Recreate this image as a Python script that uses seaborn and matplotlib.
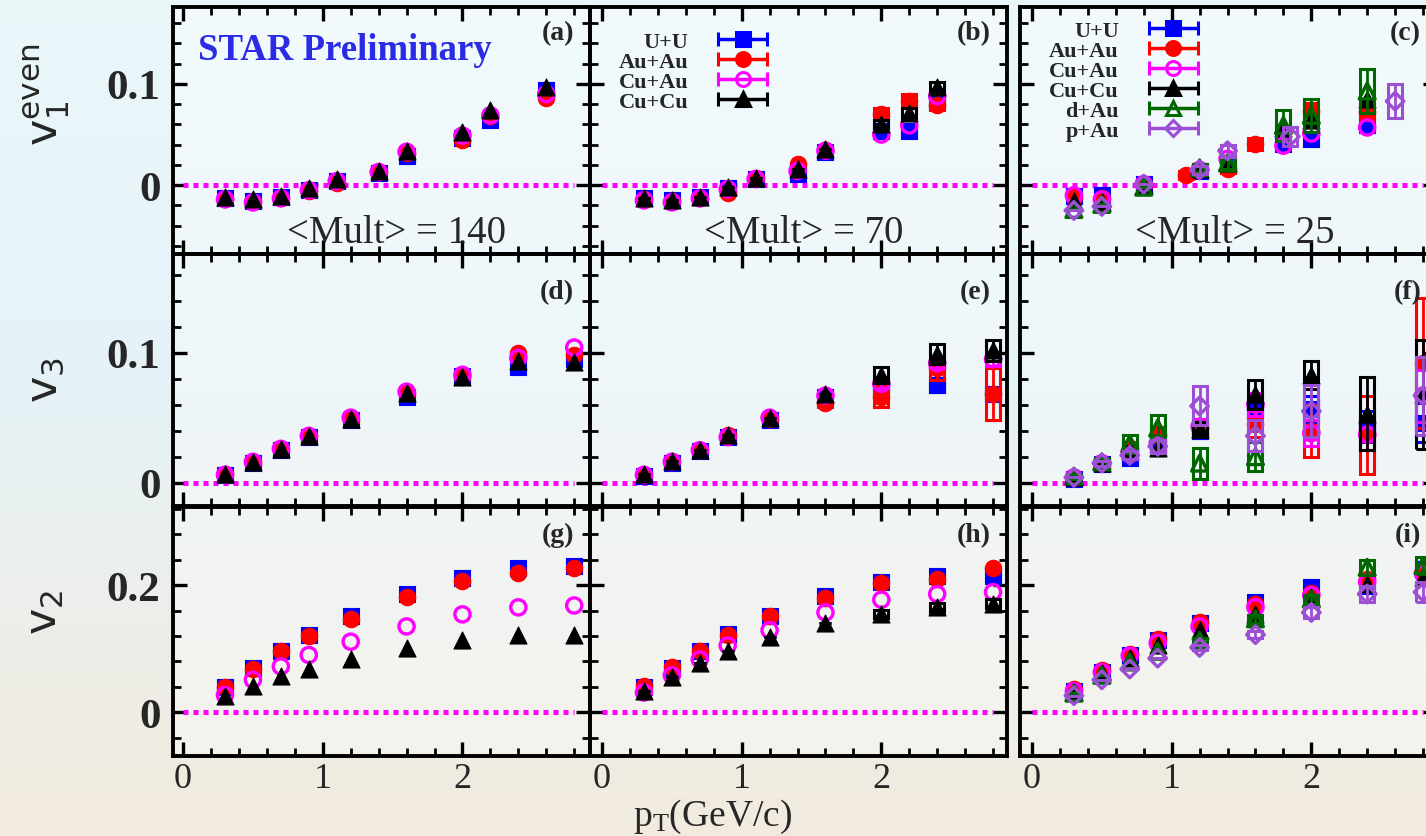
import numpy as np
import pandas as pd
import matplotlib
matplotlib.use('Agg')
import matplotlib.pyplot as plt
from matplotlib.patches import Rectangle
from matplotlib.ticker import MultipleLocator
from matplotlib.container import ErrorbarContainer
from matplotlib.legend_handler import HandlerErrorbar
from matplotlib.font_manager import FontProperties
import seaborn as sns

# ---------------- data ----------------
xticks = [0, 1, 2]
xtick_labels = ['0', '1', '2']
yticks_v1 = [0, 0.1]
ytick_labels_v1 = ['0', '0.1']
yticks_v3 = [0, 0.1]
ytick_labels_v3 = ['0', '0.1']
yticks_v2 = [0, 0.2]
ytick_labels_v2 = ['0', '0.2']
mult_labels = ['<Mult> = 140', '<Mult> = 70', '<Mult> = 25']
panel_tags = ['(a)', '(b)', '(c)', '(d)', '(e)', '(f)', '(g)', '(h)', '(i)']

# v1 even, <Mult> = 140
pt_a = [0.3, 0.5, 0.7, 0.9, 1.1, 1.4, 1.6, 2.0, 2.2, 2.6]
v1_140_uu = [-0.013, -0.016, -0.012, -0.005, 0.004, 0.012, 0.029, 0.047, 0.064, 0.094]
v1_140_auau = [-0.014, -0.017, -0.013, -0.006, 0.002, 0.013, 0.032, 0.045, 0.068, 0.086]
v1_140_cuau = [-0.014, -0.017, -0.013, -0.005, 0.004, 0.013, 0.033, 0.049, 0.069, 0.090]
v1_140_cucu = [-0.012, -0.014, -0.011, -0.003, 0.006, 0.014, 0.034, 0.053, 0.074, 0.097]

# v1 even, <Mult> = 70
pt_b = [0.3, 0.5, 0.7, 0.9, 1.1, 1.4, 1.6, 2.0, 2.2, 2.4]
v1_70_uu = [-0.013, -0.015, -0.012, -0.003, 0.006, 0.011, 0.033, 0.054, 0.054, 0.083]
v1_70_auau = [-0.014, -0.016, -0.013, -0.008, 0.007, 0.021, 0.035, 0.070, 0.083, 0.079]
v1_70_cuau = [-0.015, -0.017, -0.013, -0.004, 0.006, 0.014, 0.034, 0.050, 0.059, 0.088]
v1_70_cucu = [-0.013, -0.015, -0.012, -0.002, 0.007, 0.016, 0.036, 0.060, 0.071, 0.097]
err_v1_70_auau = [0, 0, 0, 0, 0, 0, 0, 0.006, 0.007, 0.005]
err_v1_70_cucu = [0, 0, 0, 0, 0, 0, 0, 0.004, 0.005, 0.005]

# v1 even, <Mult> = 25
pt_c_uu = [0.3, 0.5, 0.8, 1.2, 1.4, 1.8, 2.0, 2.4]
v1_25_uu = [-0.011, -0.010, 0.001, 0.014, 0.021, 0.041, 0.046, 0.059]
pt_c_auau = [0.3, 0.5, 0.8, 1.1, 1.4, 1.6, 2.0, 2.4]
v1_25_auau = [-0.012, -0.013, 0.000, 0.010, 0.016, 0.041, 0.073, 0.072]
err_v1_25_auau = [0, 0, 0, 0.004, 0.004, 0.006, 0.008, 0.008]
pt_c_cuau = [0.3, 0.5, 0.8, 1.2, 1.4, 1.8, 2.0, 2.4]
v1_25_cuau = [-0.010, -0.014, 0.001, 0.015, 0.026, 0.039, 0.051, 0.057]
pt_c_cucu = [0.3, 0.5, 0.8, 1.2, 1.4, 1.8, 2.0, 2.4]
v1_25_cucu = [-0.016, -0.017, 0.000, 0.016, 0.022, 0.056, 0.064, 0.085]
pt_c_dau = [0.3, 0.5, 0.8, 1.2, 1.4, 1.8, 2.0, 2.4]
v1_25_dau = [-0.024, -0.019, -0.002, 0.017, 0.022, 0.059, 0.069, 0.093]
err_v1_25_dau = [0, 0, 0, 0.004, 0.006, 0.015, 0.016, 0.022]
pt_c_pau = [0.3, 0.5, 0.8, 1.2, 1.4, 1.85, 2.6]
v1_25_pau = [-0.025, -0.021, 0.001, 0.015, 0.034, 0.048, 0.083]
err_v1_25_pau = [0, 0, 0, 0.004, 0.006, 0.009, 0.017]

# common pT bins for v3 and v2
pt_n = [0.3, 0.5, 0.7, 0.9, 1.2, 1.6, 2.0, 2.4, 2.8]

# v3, <Mult> = 140
v3_140_uu = [0.006, 0.015, 0.025, 0.035, 0.048, 0.066, 0.082, 0.089, 0.095]
v3_140_auau = [0.007, 0.016, 0.026, 0.036, 0.049, 0.069, 0.081, 0.100, 0.098]
v3_140_cuau = [0.006, 0.016, 0.026, 0.036, 0.050, 0.070, 0.083, 0.096, 0.104]
v3_140_cucu = [0.007, 0.016, 0.026, 0.036, 0.049, 0.069, 0.081, 0.094, 0.093]

# v3, <Mult> = 70
v3_70_uu = [0.005, 0.015, 0.024, 0.035, 0.048, 0.066, 0.074, 0.075, 0.068]
v3_70_auau = [0.006, 0.017, 0.025, 0.037, 0.049, 0.061, 0.066, 0.088, 0.068]
v3_70_cuau = [0.006, 0.016, 0.025, 0.035, 0.050, 0.067, 0.076, 0.092, 0.095]
v3_70_cucu = [0.007, 0.017, 0.025, 0.037, 0.050, 0.068, 0.083, 0.099, 0.102]
err_v3_70_uu = [0, 0, 0, 0, 0, 0, 0.003, 0.005, 0.005]
err_v3_70_auau = [0, 0, 0, 0, 0, 0.003, 0.008, 0.009, 0.020]
err_v3_70_cuau = [0, 0, 0, 0, 0, 0, 0.003, 0.004, 0.005]
err_v3_70_cucu = [0, 0, 0, 0, 0, 0, 0.006, 0.008, 0.008]

# v3, <Mult> = 25
v3_25_uu = [0.003, 0.014, 0.019, 0.027, 0.040, 0.057, 0.057, 0.043, 0.046]
err_v3_25_uu = [0, 0.002, 0.003, 0.004, 0.006, 0.008, 0.010, 0.012, 0.015]
v3_25_auau = [0.004, 0.015, 0.027, 0.037, 0.042, 0.045, 0.040, 0.037, 0.092]
err_v3_25_auau = [0, 0.002, 0.004, 0.006, 0.007, 0.010, 0.020, 0.030, 0.050]
v3_25_cuau = [0.004, 0.015, 0.022, 0.030, 0.043, 0.060, 0.038, 0.037, 0.067]
err_v3_25_cuau = [0, 0.002, 0.003, 0.005, 0.006, 0.009, 0.010, 0.012, 0.020]
v3_25_cucu = [0.004, 0.015, 0.024, 0.027, 0.041, 0.068, 0.083, 0.053, 0.068]
err_v3_25_cucu = [0, 0.002, 0.004, 0.005, 0.006, 0.011, 0.011, 0.028, 0.042]
pt_f_dau = [0.3, 0.5, 0.7, 0.9, 1.2, 1.6]
v3_25_dau = [0.005, 0.016, 0.030, 0.042, 0.015, 0.020]
err_v3_25_dau = [0.002, 0.003, 0.007, 0.010, 0.012, 0.011]
pt_f_pau = [0.3, 0.5, 0.7, 0.9, 1.2, 1.6, 2.0, 2.8]
v3_25_pau = [0.004, 0.015, 0.021, 0.028, 0.059, 0.036, 0.055, 0.067]
err_v3_25_pau = [0, 0.002, 0.003, 0.005, 0.015, 0.012, 0.020, 0.030]

# v2, <Mult> = 140
v2_140_uu = [0.039, 0.069, 0.097, 0.122, 0.151, 0.186, 0.212, 0.227, 0.230]
v2_140_auau = [0.039, 0.068, 0.096, 0.120, 0.147, 0.182, 0.206, 0.219, 0.227]
v2_140_cuau = [0.027, 0.051, 0.072, 0.090, 0.111, 0.135, 0.154, 0.165, 0.168]
v2_140_cucu = [0.025, 0.041, 0.057, 0.068, 0.083, 0.101, 0.114, 0.121, 0.121]

# v2, <Mult> = 70
v2_70_uu = [0.039, 0.069, 0.097, 0.123, 0.152, 0.183, 0.205, 0.214, 0.215]
v2_70_auau = [0.041, 0.071, 0.097, 0.122, 0.152, 0.180, 0.203, 0.210, 0.227]
v2_70_cuau = [0.031, 0.058, 0.083, 0.105, 0.129, 0.157, 0.177, 0.186, 0.189]
v2_70_cucu = [0.034, 0.055, 0.078, 0.096, 0.118, 0.141, 0.155, 0.165, 0.171]
err_v2_70_cucu = [0, 0, 0, 0, 0, 0, 0.006, 0.007, 0.007]

# v2, <Mult> = 25
v2_25_uu = [0.034, 0.064, 0.090, 0.113, 0.141, 0.173, 0.197, 0.199, 0.226]
v2_25_auau = [0.037, 0.066, 0.092, 0.115, 0.142, 0.171, 0.188, 0.210, 0.222]
v2_25_cuau = [0.033, 0.063, 0.089, 0.109, 0.135, 0.165, 0.184, 0.205, 0.218]
v2_25_cucu = [0.032, 0.062, 0.085, 0.105, 0.129, 0.155, 0.181, 0.202, 0.213]
v2_25_dau = [0.030, 0.058, 0.079, 0.096, 0.113, 0.147, 0.178, 0.228, 0.231]
err_v2_25_dau = [0, 0, 0, 0, 0.004, 0.006, 0.007, 0.012, 0.014]
v2_25_pau = [0.026, 0.051, 0.068, 0.085, 0.102, 0.122, 0.157, 0.186, 0.189]
err_v2_25_pau = [0, 0, 0, 0, 0.004, 0.006, 0.008, 0.013, 0.016]

# ---------------- style ----------------
systems = ['U+U', 'Au+Au', 'Cu+Au', 'Cu+Cu', 'd+Au', 'p+Au']
colors = {'U+U': '#0000ff', 'Au+Au': '#ff0000', 'Cu+Au': '#ff00ff',
          'Cu+Cu': '#000000', 'd+Au': '#006600', 'p+Au': '#9c4fd4'}
markers = {'U+U': 's', 'Au+Au': 'o', 'Cu+Au': 'o', 'Cu+Cu': '^', 'd+Au': '^', 'p+Au': 'D'}
hollow = {'Cu+Au', 'd+Au', 'p+Au'}
sizes = {'U+U': 125, 'Au+Au': 140, 'Cu+Au': 120, 'Cu+Cu': 150, 'd+Au': 130, 'p+Au': 80}

sns.set_theme(style='ticks')
plt.rcParams['font.family'] = ['Liberation Serif', 'DejaVu Serif']
plt.rcParams['mathtext.fontset'] = 'custom'
plt.rcParams['mathtext.rm'] = 'Liberation Serif'
plt.rcParams['mathtext.it'] = 'Liberation Serif:italic'
plt.rcParams['mathtext.sf'] = 'Liberation Sans Narrow'

W, H = 1426, 837
fig = plt.figure(figsize=(W / 100, H / 100), dpi=100)

# soft gradient backdrop like the slide behind the figure
bg = fig.add_axes([0, 0, 1, 1], zorder=-10)
grad = np.linspace(0, 1, 256)[:, None]
top = np.array([0.92, 0.97, 0.98])
mid = np.array([0.90, 0.95, 0.97])
bot = np.array([0.95, 0.92, 0.87])
img = np.where(grad < 0.45, top + (mid - top) * (grad / 0.45),
               mid + (bot - mid) * ((grad - 0.45) / 0.55))
bg.imshow(np.repeat(img[:, None, :], 2, axis=1).reshape(256, 2, 3), aspect='auto',
          extent=[0, 1, 0, 1])
bg.set_axis_off()

col_px = [173, 590, 1020]
col_w = 417
row_px = [(8, 255), (255, 507), (508, 757)]
xlims = [(-0.072, 2.913), (-0.086, 2.90), (-0.086, 2.90)]
ylims = [(-0.068, 0.176), (-0.018, 0.176), (-0.069, 0.323)]
yminor = [0.02, 0.02, 0.04]
yticks = [yticks_v1, yticks_v3, yticks_v2]
ytick_labels = [ytick_labels_v1, ytick_labels_v3, ytick_labels_v2]
tag_y = [0.945, 0.9, 0.94]

panel_series = [
    [('U+U', pt_a, v1_140_uu, None), ('Au+Au', pt_a, v1_140_auau, None),
     ('Cu+Au', pt_a, v1_140_cuau, None), ('Cu+Cu', pt_a, v1_140_cucu, None)],
    [('U+U', pt_b, v1_70_uu, None), ('Au+Au', pt_b, v1_70_auau, err_v1_70_auau),
     ('Cu+Au', pt_b, v1_70_cuau, None), ('Cu+Cu', pt_b, v1_70_cucu, err_v1_70_cucu)],
    [('U+U', pt_c_uu, v1_25_uu, None), ('Au+Au', pt_c_auau, v1_25_auau, err_v1_25_auau),
     ('Cu+Au', pt_c_cuau, v1_25_cuau, None), ('Cu+Cu', pt_c_cucu, v1_25_cucu, None),
     ('d+Au', pt_c_dau, v1_25_dau, err_v1_25_dau), ('p+Au', pt_c_pau, v1_25_pau, err_v1_25_pau)],
    [('U+U', pt_n, v3_140_uu, None), ('Au+Au', pt_n, v3_140_auau, None),
     ('Cu+Au', pt_n, v3_140_cuau, None), ('Cu+Cu', pt_n, v3_140_cucu, None)],
    [('U+U', pt_n, v3_70_uu, err_v3_70_uu), ('Au+Au', pt_n, v3_70_auau, err_v3_70_auau),
     ('Cu+Au', pt_n, v3_70_cuau, err_v3_70_cuau), ('Cu+Cu', pt_n, v3_70_cucu, err_v3_70_cucu)],
    [('U+U', pt_n, v3_25_uu, err_v3_25_uu), ('Au+Au', pt_n, v3_25_auau, err_v3_25_auau),
     ('Cu+Au', pt_n, v3_25_cuau, err_v3_25_cuau), ('Cu+Cu', pt_n, v3_25_cucu, err_v3_25_cucu),
     ('d+Au', pt_f_dau, v3_25_dau, err_v3_25_dau), ('p+Au', pt_f_pau, v3_25_pau, err_v3_25_pau)],
    [('U+U', pt_n, v2_140_uu, None), ('Au+Au', pt_n, v2_140_auau, None),
     ('Cu+Au', pt_n, v2_140_cuau, None), ('Cu+Cu', pt_n, v2_140_cucu, None)],
    [('U+U', pt_n, v2_70_uu, None), ('Au+Au', pt_n, v2_70_auau, None),
     ('Cu+Au', pt_n, v2_70_cuau, None), ('Cu+Cu', pt_n, v2_70_cucu, err_v2_70_cucu)],
    [('U+U', pt_n, v2_25_uu, None), ('Au+Au', pt_n, v2_25_auau, None),
     ('Cu+Au', pt_n, v2_25_cuau, None), ('Cu+Cu', pt_n, v2_25_cucu, None),
     ('d+Au', pt_n, v2_25_dau, err_v2_25_dau), ('p+Au', pt_n, v2_25_pau, err_v2_25_pau)],
]


def draw_series(ax, name, x, y, err, z):
    col = colors[name]
    if err is not None:
        for xi, yi, ei in zip(x, y, err):
            if ei > 0:
                ax.add_patch(Rectangle((xi - 0.05, yi - ei), 0.1, 2 * ei, fill=False,
                                       ec=col, lw=2.2, zorder=z))
        ax.errorbar(x, y, yerr=err, fmt='none', ecolor=col, elinewidth=2,
                    capsize=4, capthick=2, zorder=z)
    df = pd.DataFrame({'pt': x, 'v': y})
    fc = 'none' if name in hollow else col
    lw = 2.4 if name in hollow else 0.8
    sns.scatterplot(data=df, x='pt', y='v', ax=ax, marker=markers[name], s=sizes[name],
                    color=col, facecolor=fc, edgecolor=col, linewidth=lw,
                    zorder=z + 0.5, legend=False)


def legend_proxies(ax, names):
    handles = []
    for name in names:
        col = colors[name]
        h = ax.errorbar([np.nan], [np.nan], xerr=[1], fmt=markers[name], color=col,
                        mfc='none' if name in hollow else col, mec=col,
                        ms=10 if name != 'p+Au' else 8,
                        mew=2.2, elinewidth=2.5, capsize=5, capthick=2.5, label=name)
        handles.append(h)
    return handles


axes = []
for r in range(3):
    for c in range(3):
        y0, y1 = row_px[r]
        ax = fig.add_axes([col_px[c] / W, 1 - y1 / H, col_w / W, (y1 - y0) / H])
        ax.set_facecolor((1, 1, 1, 0.35))
        axes.append(ax)
        idx = r * 3 + c
        ax.plot([0, 2.8], [0, 0], color='#ff00ff', lw=3.6, linestyle=(0, (1, 1)),
                dash_capstyle='butt', zorder=1)
        for k, (name, x, y, err) in enumerate(panel_series[idx]):
            draw_series(ax, name, x, y, err, 3 + k)
        ax.set_xlim(*xlims[c])
        ax.set_ylim(*ylims[r])
        ax.set_xlabel('')
        ax.set_ylabel('')
        ax.xaxis.set_minor_locator(MultipleLocator(0.2))
        ax.yaxis.set_minor_locator(MultipleLocator(yminor[r]))
        ax.set_xticks(xticks)
        ax.set_yticks(yticks[r])
        if r == 2:
            ax.set_xticklabels(xtick_labels, fontsize=26)
        else:
            ax.set_xticklabels([])
        if c == 0:
            ax.set_yticklabels(ytick_labels[r], fontsize=31, fontweight='bold')
        else:
            ax.set_yticklabels([])
        ax.tick_params(which='both', direction='in', top=True, right=True, color='black')
        ax.tick_params(which='major', length=10, width=2.4, pad=4)
        ax.tick_params(axis='y', which='major', pad=9)
        ax.tick_params(which='minor', length=5.5, width=2.0)
        for sp in ax.spines.values():
            sp.set_linewidth(2.8)
            sp.set_color('black')
        ax.text(0.962, tag_y[r], panel_tags[idx], transform=ax.transAxes, ha='right',
                va='top', fontsize=20, fontweight='bold', zorder=20)
        if r == 0:
            xc = [0.537, 0.513, 0.516][c]
            ax.text(xc, 0.05, mult_labels[c], transform=ax.transAxes, ha='center',
                    va='baseline', fontsize=28, zorder=20)

# STAR label
axes[0].text(0.06, 0.79, 'STAR Preliminary', transform=axes[0].transAxes, ha='left',
             va='baseline', fontsize=26.5, fontweight='bold', color='#2b2be6', zorder=20)

# legends
leg_font = FontProperties(family='Liberation Serif', weight='bold', size=16)
hm = {ErrorbarContainer: HandlerErrorbar(xerr_size=1.1)}
for ax, names, anchor in [(axes[1], systems[:4], (0.427, 0.9)),
                          (axes[2], systems, (0.429, 0.945))]:
    handles = legend_proxies(ax, names)
    ax.legend(handles=handles, loc='upper right', bbox_to_anchor=anchor, markerfirst=False,
              frameon=False, prop=leg_font, handlelength=2.3, handletextpad=1.3,
              labelspacing=-0.03, borderpad=0, borderaxespad=0, numpoints=1,
              handler_map=hm)

# axis titles
fig.text(47 / W, 1 - 95 / H, r'$\mathsf{v_1^{even}}$', rotation=90, ha='center',
         va='center', fontsize=32)
fig.text(46 / W, 1 - 380 / H, r'$\mathsf{v_3}$', rotation=90, ha='center', va='center',
         fontsize=32)
fig.text(46 / W, 1 - 612 / H, r'$\mathsf{v_2}$', rotation=90, ha='center', va='center',
         fontsize=32)
fig.text(713 / W, 1 - 826 / H, r'$\mathrm{p_T}$(GeV/c)', ha='center', va='baseline',
         fontsize=27)

fig.savefig('out.png', dpi=100)
